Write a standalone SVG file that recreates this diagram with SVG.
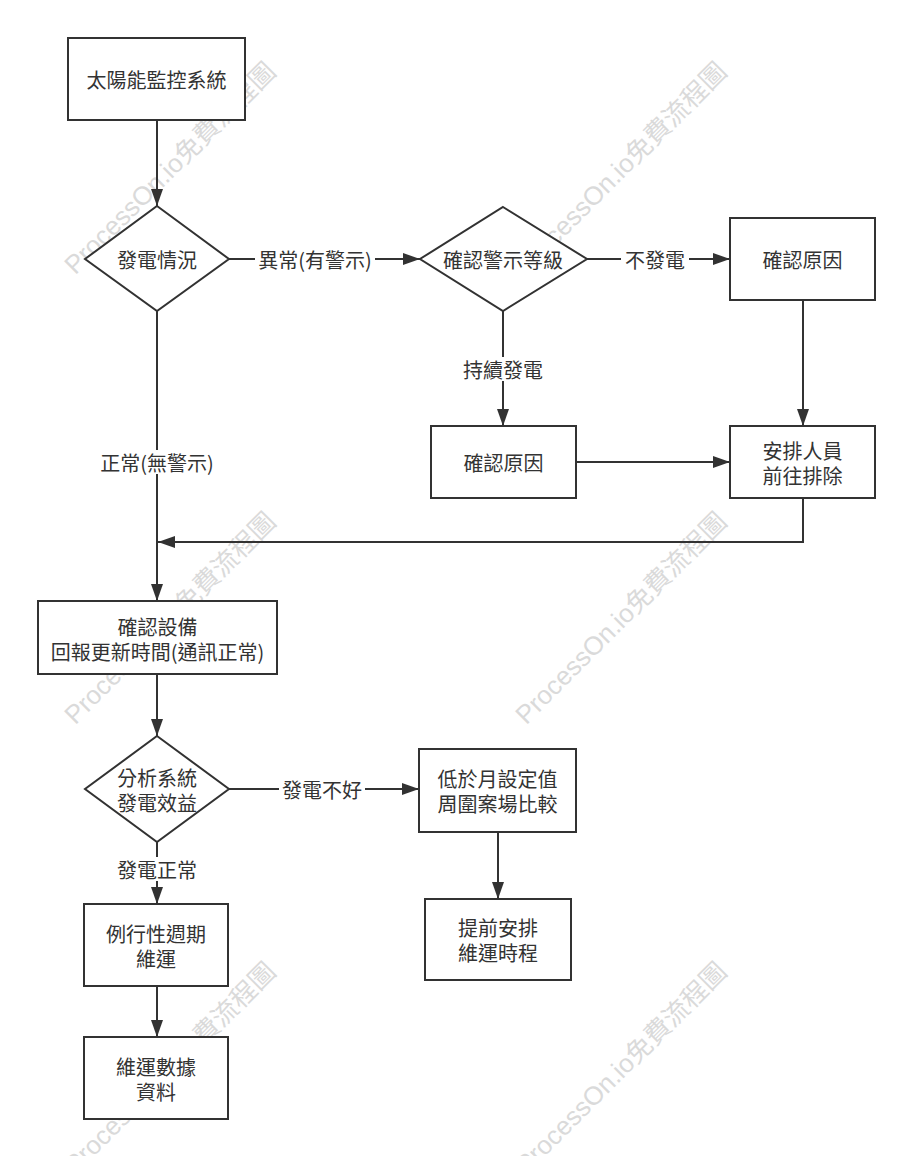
<svg xmlns="http://www.w3.org/2000/svg" width="912" height="1156" viewBox="0 0 912 1156">
  <style>
    .wm { font-family: "Liberation Sans", "Noto Sans CJK TC", sans-serif; font-size: 26px; fill: #dadada; text-anchor: middle; dominant-baseline: central; }
    .box { fill: #ffffff; stroke: #323232; stroke-width: 2; }
    .t { font-family: "Noto Sans CJK TC", "Noto Sans CJK SC", sans-serif; font-size: 20px; fill: #333333; text-anchor: middle; dominant-baseline: central; }
    .ln { fill: none; stroke: #323232; stroke-width: 2; }
    .lbg { fill: #ffffff; }
  </style>
  <defs>
    <marker id="arr" markerWidth="17" markerHeight="12" refX="17" refY="6" orient="auto" markerUnits="userSpaceOnUse">
      <path d="M0,0 L17,6 L0,12 z" fill="#323232"/>
    </marker>
  </defs>
  <rect x="0" y="0" width="912" height="1156" fill="#ffffff"/>

  <g id="watermarks">
    <text class="wm" transform="translate(170,168) rotate(-45)">ProcessOn.io免費流程圖</text>
    <text class="wm" transform="translate(621,168) rotate(-45)">ProcessOn.io免費流程圖</text>
    <text class="wm" transform="translate(170,618) rotate(-45)">ProcessOn.io免費流程圖</text>
    <text class="wm" transform="translate(621,618) rotate(-45)">ProcessOn.io免費流程圖</text>
    <text class="wm" transform="translate(170,1068) rotate(-45)">ProcessOn.io免費流程圖</text>
    <text class="wm" transform="translate(621,1068) rotate(-45)">ProcessOn.io免費流程圖</text>
  </g>

  <g id="connectors">
    <path class="ln" d="M157,120 L157,206" marker-end="url(#arr)"/>
    <path class="ln" d="M229,259 L420,259" marker-end="url(#arr)"/>
    <path class="ln" d="M587,259 L730,259" marker-end="url(#arr)"/>
    <path class="ln" d="M803,300 L803,426" marker-end="url(#arr)"/>
    <path class="ln" d="M503,311 L503,426" marker-end="url(#arr)"/>
    <path class="ln" d="M576,462 L730,462" marker-end="url(#arr)"/>
    <path class="ln" d="M803,498 L803,542 L158,542" marker-end="url(#arr)"/>
    <path class="ln" d="M157,311 L157,601" marker-end="url(#arr)"/>
    <path class="ln" d="M157,674 L157,736" marker-end="url(#arr)"/>
    <path class="ln" d="M229,789 L419,789" marker-end="url(#arr)"/>
    <path class="ln" d="M498,832 L498,899" marker-end="url(#arr)"/>
    <path class="ln" d="M157,842 L157,904" marker-end="url(#arr)"/>
    <path class="ln" d="M157,986 L157,1037" marker-end="url(#arr)"/>
    <g id="labels">
      <rect class="lbg" x="255" y="247" width="120" height="24"/>
      <text class="t" x="315" y="259">異常(有警示)</text>
      <rect class="lbg" x="621" y="247" width="68" height="24"/>
      <text class="t" x="655" y="259">不發電</text>
      <rect class="lbg" x="460" y="357" width="86" height="24"/>
      <text class="t" x="503" y="369">持續發電</text>
      <rect class="lbg" x="97" y="450" width="120" height="24"/>
      <text class="t" x="157" y="462">正常(無警示)</text>
      <rect class="lbg" x="279" y="777" width="86" height="24"/>
      <text class="t" x="322" y="789">發電不好</text>
      <rect class="lbg" x="114" y="857" width="86" height="24"/>
      <text class="t" x="157" y="869">發電正常</text>
    </g>
  </g>

  <g id="n1">
    <rect class="box" x="68" y="38" width="177" height="82"/>
    <text class="t" x="156.5" y="79">太陽能監控系統</text>
  </g>
  <g id="n2">
    <polygon class="box" points="157,206 229,259 157,311 85,259"/>
    <text class="t" x="157" y="259">發電情況</text>
  </g>
  <g id="n3">
    <polygon class="box" points="503,207 587,259 503,311 420,259"/>
    <text class="t" x="503" y="259">確認警示等級</text>
  </g>
  <g id="n4">
    <rect class="box" x="730" y="218" width="145" height="82"/>
    <text class="t" x="802.5" y="259">確認原因</text>
  </g>
  <g id="n5">
    <rect class="box" x="431" y="426" width="145" height="72"/>
    <text class="t" x="503.5" y="462">確認原因</text>
  </g>
  <g id="n6">
    <rect class="box" x="730" y="426" width="145" height="72"/>
    <text class="t" x="802.5" y="450">安排人員</text>
    <text class="t" x="802.5" y="475">前往排除</text>
  </g>
  <g id="n7">
    <rect class="box" x="38" y="601" width="239" height="73"/>
    <text class="t" x="157.5" y="626">確認設備</text>
    <text class="t" x="157.5" y="651">回報更新時間(通訊正常)</text>
  </g>
  <g id="n8">
    <polygon class="box" points="157,736 229,789 157,842 85,789"/>
    <text class="t" x="157" y="777">分析系統</text>
    <text class="t" x="157" y="802">發電效益</text>
  </g>
  <g id="n9">
    <rect class="box" x="419" y="749" width="157" height="83"/>
    <text class="t" x="497.5" y="778">低於月設定值</text>
    <text class="t" x="497.5" y="803">周圍案場比較</text>
  </g>
  <g id="n10">
    <rect class="box" x="425" y="899" width="146" height="81"/>
    <text class="t" x="498" y="927">提前安排</text>
    <text class="t" x="498" y="952">維運時程</text>
  </g>
  <g id="n11">
    <rect class="box" x="84" y="904" width="144" height="82"/>
    <text class="t" x="156" y="933">例行性週期</text>
    <text class="t" x="156" y="958">維運</text>
  </g>
  <g id="n12">
    <rect class="box" x="84" y="1037" width="144" height="82"/>
    <text class="t" x="156" y="1066">維運數據</text>
    <text class="t" x="156" y="1091">資料</text>
  </g>
</svg>
